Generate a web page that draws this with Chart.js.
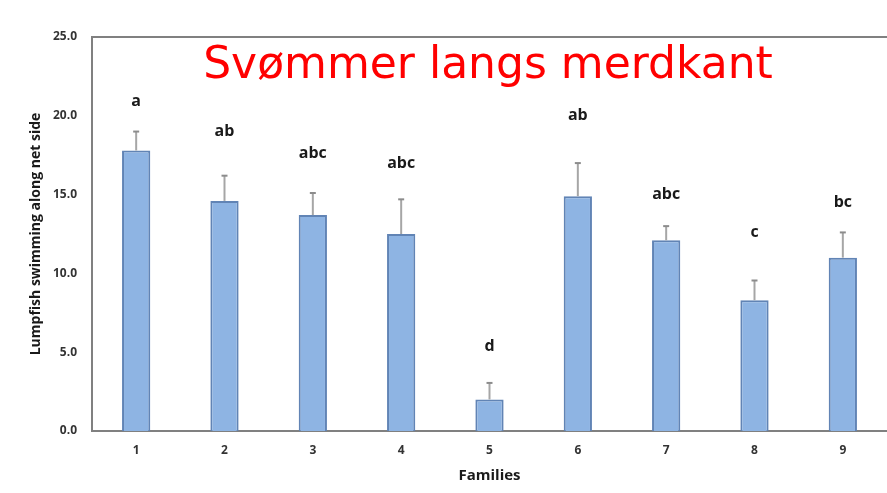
<!DOCTYPE html>
<html>
<head>
<meta charset="utf-8">
<script src="https://cdn.jsdelivr.net/npm/chart.js@4.4.1/dist/chart.umd.min.js"></script>
<style>
  html, body { margin: 0; padding: 0; background: #ffffff; }
  #wrap { position: relative; width: 887px; height: 493px; }
</style>
</head>
<body>
<div id="wrap"><canvas id="c" width="887" height="493"></canvas></div>
<script>
// ---- data ----
const families = ["1", "2", "3", "4", "5", "6", "7", "8", "9"];
const meanValues = [17.8, 14.6, 13.7, 12.5, 2.0, 14.9, 12.1, 8.3, 11.0];
const errorValues = [1.2, 1.6, 1.4, 2.2, 1.05, 2.1, 0.9, 1.25, 1.6];
const groupLetters = ["a", "ab", "abc", "abc", "d", "ab", "abc", "c", "bc"];
const letterLevels = [20.9, 19.0, 17.6, 17.0, 5.35, 20.0, 15.0, 12.6, 14.5];
const yTicks = [0, 5, 10, 15, 20, 25];
const chartTitle = "Svømmer langs merdkant";
const xTitle = "Families";
const yTitle = "Lumpfish swimming along net side";

const overlay = {
  id: "overlay",
  afterDatasetsDraw(chart) {
    const ctx = chart.ctx;
    const xs = chart.scales.x, ys = chart.scales.y;
    const ca = chart.chartArea;
    ctx.save();
    // error bars (upper only)
    meanValues.forEach((v, i) => {
      const x = xs.getPixelForValue(i);
      const y0 = ys.getPixelForValue(v);
      const y1 = ys.getPixelForValue(v + errorValues[i]);
      ctx.strokeStyle = "#a6a6a6";
      ctx.lineWidth = 2;
      ctx.beginPath(); ctx.moveTo(x, y0); ctx.lineTo(x, y1); ctx.stroke();
      ctx.strokeStyle = "#8c8c8c";
      ctx.lineWidth = 2;
      ctx.beginPath(); ctx.moveTo(x - 3, y1); ctx.lineTo(x + 3, y1); ctx.stroke();
    });
    // group letters
    ctx.fillStyle = "#1a1a1a";
    ctx.font = "bold 16px 'Open Sans', sans-serif";
    ctx.textAlign = "center";
    ctx.textBaseline = "middle";
    groupLetters.forEach((t, i) => {
      ctx.fillText(t, xs.getPixelForValue(i), ys.getPixelForValue(letterLevels[i]));
    });
    // top frame line
    ctx.strokeStyle = "#808080";
    ctx.lineWidth = 2;
    ctx.beginPath(); ctx.moveTo(ca.left - 1, ca.top); ctx.lineTo(chart.width, ca.top); ctx.stroke();
    // title
    ctx.fillStyle = "#ff0000";
    ctx.font = "44px 'DejaVu Sans', sans-serif";
    ctx.textBaseline = "alphabetic";
    ctx.fillText(chartTitle, 488, 78);
    ctx.restore();
  }
};

new Chart(document.getElementById("c"), {
  type: "bar",
  data: {
    labels: families,
    datasets: [{
      data: meanValues,
      backgroundColor: "#8eb4e3",
      borderColor: "#6184b5",
      borderWidth: { left: 2, right: 2, top: 2, bottom: 0 },
      barPercentage: 0.32,
      categoryPercentage: 1.0
    }]
  },
  options: {
    responsive: false,
    animation: false,
    layout: { padding: { top: 37, left: 0, right: 0, bottom: 0 } },
    plugins: { legend: { display: false }, tooltip: { enabled: false }, title: { display: false } },
    scales: {
      x: {
        grid: { display: false, drawTicks: false },
        border: { display: true, color: "#808080", width: 2 },
        ticks: { color: "#333333", font: { family: "'Open Sans', sans-serif", size: 12, weight: "bold" }, padding: 12 },
        title: { display: true, text: xTitle, color: "#1a1a1a",
                 font: { family: "'Open Sans', sans-serif", size: 15, weight: "bold" },
                 padding: { top: 0, bottom: 8 } },
        afterFit(s) { s.height = 62; }
      },
      y: {
        min: 0, max: 25,
        afterBuildTicks(s) { s.ticks = yTicks.map(v => ({ value: v })); },
        grid: { display: false, drawTicks: false },
        border: { display: true, color: "#808080", width: 2 },
        ticks: { color: "#333333", font: { family: "'Open Sans', sans-serif", size: 12, weight: "bold" }, padding: 15,
                 callback: v => Number(v).toFixed(1) },
        title: { display: true, text: yTitle, color: "#1a1a1a",
                 font: { family: "'Open Sans', sans-serif", size: 14, weight: "bold" },
                 padding: { top: 28, bottom: 0 } },
        afterFit(s) { s.width = 92; }
      }
    }
  },
  plugins: [overlay]
});
</script>
</body>
</html>
